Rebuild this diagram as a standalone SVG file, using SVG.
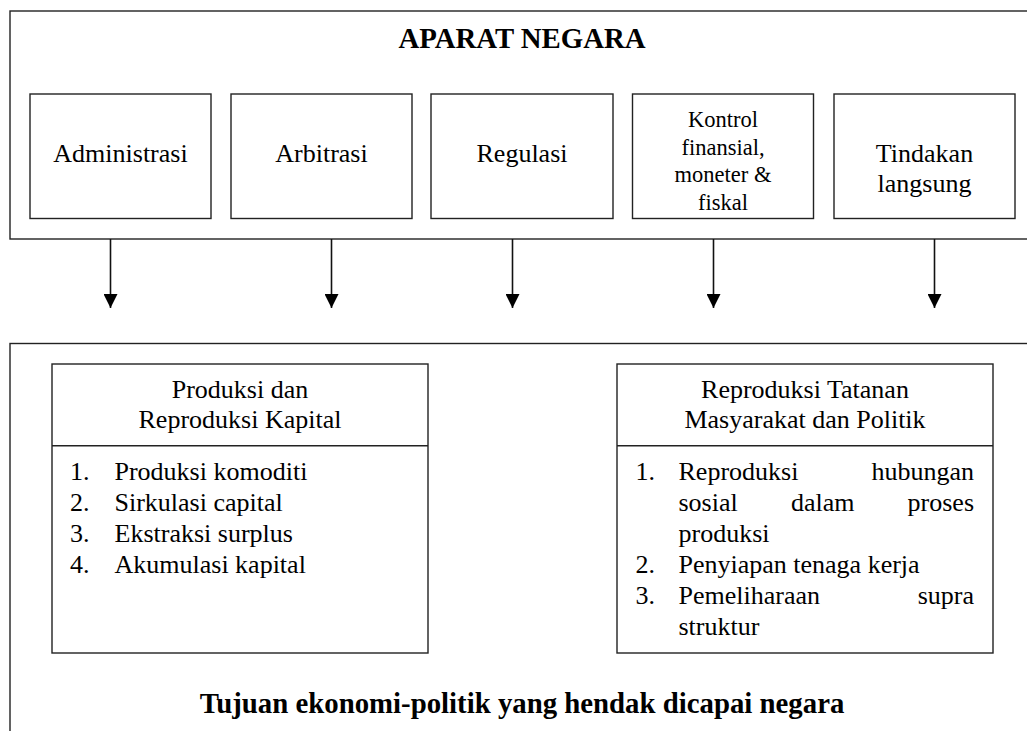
<svg xmlns="http://www.w3.org/2000/svg" width="1027" height="731" viewBox="0 0 1027 731">
<defs>
<marker id="arr" markerWidth="15" markerHeight="14" refX="14" refY="7" orient="auto" markerUnits="userSpaceOnUse" viewBox="0 0 15 14">
<path d="M0,0 L14,7 L0,14 Z" fill="#000"/>
</marker>
</defs>
<rect width="1027" height="731" fill="#fff"/>
<g id="aparat-negara">
<rect x="10" y="11" width="1040" height="228" fill="none" stroke="#222" stroke-width="1.4"/>
<text style="font-family:'Times New Roman','Liberation Serif',Tinos,serif" font-size="28.8" font-weight="bold" text-anchor="middle" x="522" y="48">APARAT NEGARA</text>
</g>
<g id="administrasi">
<rect x="30" y="94" width="181" height="124.5" fill="none" stroke="#222" stroke-width="1.4"/>
<text style="font-family:'Times New Roman','Liberation Serif',Tinos,serif" font-size="26" text-anchor="middle" x="120.5" y="162">Administrasi</text>
</g>
<g id="arbitrasi">
<rect x="231" y="94" width="181" height="124.5" fill="none" stroke="#222" stroke-width="1.4"/>
<text style="font-family:'Times New Roman','Liberation Serif',Tinos,serif" font-size="26" text-anchor="middle" x="321.5" y="162">Arbitrasi</text>
</g>
<g id="regulasi">
<rect x="431" y="94" width="182" height="124.5" fill="none" stroke="#222" stroke-width="1.4"/>
<text style="font-family:'Times New Roman','Liberation Serif',Tinos,serif" font-size="26" text-anchor="middle" x="522" y="162">Regulasi</text>
</g>
<g id="kontrol">
<rect x="632.5" y="94" width="181" height="124.5" fill="none" stroke="#222" stroke-width="1.4"/>
<text style="font-family:'Times New Roman','Liberation Serif',Tinos,serif" font-size="22.5" text-anchor="middle" x="723" y="127">Kontrol</text>
<text style="font-family:'Times New Roman','Liberation Serif',Tinos,serif" font-size="22.5" text-anchor="middle" x="723" y="154.5">finansial,</text>
<text style="font-family:'Times New Roman','Liberation Serif',Tinos,serif" font-size="22.5" text-anchor="middle" x="723" y="182">moneter &amp;</text>
<text style="font-family:'Times New Roman','Liberation Serif',Tinos,serif" font-size="22.5" text-anchor="middle" x="723" y="209.5">fiskal</text>
</g>
<g id="tindakan">
<rect x="834" y="94" width="181" height="124.5" fill="none" stroke="#222" stroke-width="1.4"/>
<text style="font-family:'Times New Roman','Liberation Serif',Tinos,serif" font-size="26" text-anchor="middle" x="924.5" y="162">Tindakan</text>
<text style="font-family:'Times New Roman','Liberation Serif',Tinos,serif" font-size="26" text-anchor="middle" x="924.5" y="192">langsung</text>
</g>
<g id="connectors" stroke="#111" stroke-width="1.6" fill="none">
<line x1="110.5" y1="239" x2="110.5" y2="308" marker-end="url(#arr)"/>
<line x1="331.5" y1="239" x2="331.5" y2="308" marker-end="url(#arr)"/>
<line x1="512.5" y1="239" x2="512.5" y2="308" marker-end="url(#arr)"/>
<line x1="713.5" y1="239" x2="713.5" y2="308" marker-end="url(#arr)"/>
<line x1="934.5" y1="239" x2="934.5" y2="308" marker-end="url(#arr)"/>
</g>
<g id="tujuan">
<rect x="10" y="343.5" width="1040" height="420" fill="none" stroke="#222" stroke-width="1.4"/>
<text style="font-family:'Times New Roman','Liberation Serif',Tinos,serif" font-size="28.8" font-weight="bold" text-anchor="middle" x="522" y="713">Tujuan ekonomi-politik yang hendak dicapai negara</text>
</g>
<g id="produksi-kapital">
<rect x="52" y="364" width="376" height="289" fill="none" stroke="#222" stroke-width="1.4"/>
<line x1="52" y1="445.7" x2="428" y2="445.7" stroke="#222" stroke-width="1.4"/>
<text style="font-family:'Times New Roman','Liberation Serif',Tinos,serif" font-size="26" text-anchor="middle" x="240" y="398">Produksi dan</text>
<text style="font-family:'Times New Roman','Liberation Serif',Tinos,serif" font-size="26" text-anchor="middle" x="240" y="428">Reproduksi Kapital</text>
<text style="font-family:'Times New Roman','Liberation Serif',Tinos,serif" font-size="26" x="70" y="480">1.</text><text style="font-family:'Times New Roman','Liberation Serif',Tinos,serif" font-size="26" x="114.5" y="480">Produksi komoditi</text>
<text style="font-family:'Times New Roman','Liberation Serif',Tinos,serif" font-size="26" x="70" y="511">2.</text><text style="font-family:'Times New Roman','Liberation Serif',Tinos,serif" font-size="26" x="114.5" y="511">Sirkulasi capital</text>
<text style="font-family:'Times New Roman','Liberation Serif',Tinos,serif" font-size="26" x="70" y="541.8">3.</text><text style="font-family:'Times New Roman','Liberation Serif',Tinos,serif" font-size="26" x="114.5" y="541.8">Ekstraksi surplus</text>
<text style="font-family:'Times New Roman','Liberation Serif',Tinos,serif" font-size="26" x="70" y="572.7">4.</text><text style="font-family:'Times New Roman','Liberation Serif',Tinos,serif" font-size="26" x="114.5" y="572.7">Akumulasi kapital</text>
</g>
<g id="reproduksi-tatanan">
<rect x="617" y="364" width="376" height="289" fill="none" stroke="#222" stroke-width="1.4"/>
<line x1="617" y1="445.7" x2="993" y2="445.7" stroke="#222" stroke-width="1.4"/>
<text style="font-family:'Times New Roman','Liberation Serif',Tinos,serif" font-size="26" text-anchor="middle" x="805" y="398">Reproduksi Tatanan</text>
<text style="font-family:'Times New Roman','Liberation Serif',Tinos,serif" font-size="26" text-anchor="middle" x="805" y="428">Masyarakat dan Politik</text>
<text style="font-family:'Times New Roman','Liberation Serif',Tinos,serif" font-size="26" x="635.5" y="480">1.</text>
<text style="font-family:'Times New Roman','Liberation Serif',Tinos,serif" font-size="26" x="678.5" y="480">Reproduksi</text><text style="font-family:'Times New Roman','Liberation Serif',Tinos,serif" font-size="26" text-anchor="end" x="974" y="480">hubungan</text>
<text style="font-family:'Times New Roman','Liberation Serif',Tinos,serif" font-size="26" x="678.5" y="511">sosial</text><text style="font-family:'Times New Roman','Liberation Serif',Tinos,serif" font-size="26" x="791" y="511">dalam</text><text style="font-family:'Times New Roman','Liberation Serif',Tinos,serif" font-size="26" text-anchor="end" x="974" y="511">proses</text>
<text style="font-family:'Times New Roman','Liberation Serif',Tinos,serif" font-size="26" x="678.5" y="541.8">produksi</text>
<text style="font-family:'Times New Roman','Liberation Serif',Tinos,serif" font-size="26" x="635.5" y="572.7">2.</text><text style="font-family:'Times New Roman','Liberation Serif',Tinos,serif" font-size="26" x="678.5" y="572.7">Penyiapan tenaga kerja</text>
<text style="font-family:'Times New Roman','Liberation Serif',Tinos,serif" font-size="26" x="635.5" y="603.5">3.</text><text style="font-family:'Times New Roman','Liberation Serif',Tinos,serif" font-size="26" x="678.5" y="603.5">Pemeliharaan</text><text style="font-family:'Times New Roman','Liberation Serif',Tinos,serif" font-size="26" text-anchor="end" x="974" y="603.5">supra</text>
<text style="font-family:'Times New Roman','Liberation Serif',Tinos,serif" font-size="26" x="678.5" y="634.5">struktur</text>
</g>
</svg>
